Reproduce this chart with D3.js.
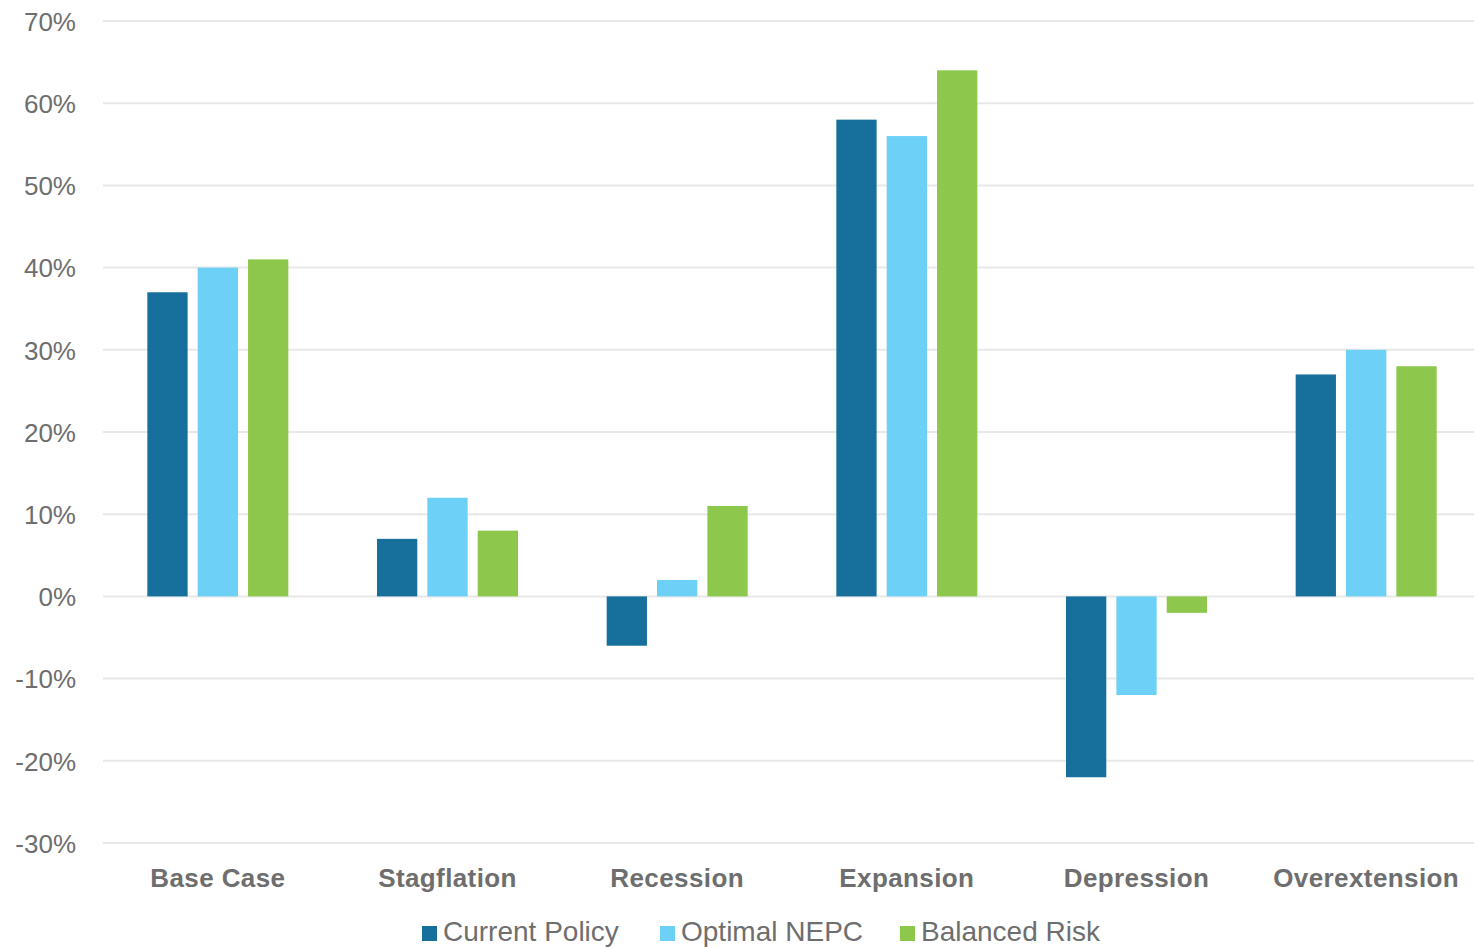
<!DOCTYPE html>
<html>
<head>
<meta charset="utf-8">
<script src="https://cdn.jsdelivr.net/npm/d3@7"></script>
<style>
  html, body { margin: 0; padding: 0; background: #fff; }
  svg { display: block; font-family: "Liberation Sans", Arial, sans-serif; }
</style>
</head>
<body>
<svg id="chart" width="1474" height="948"></svg>
<script>
// Scenario returns by portfolio
const categories = ["Base Case", "Stagflation", "Recession", "Expansion", "Depression", "Overextension"];
const seriesNames = ["Current Policy", "Optimal NEPC", "Balanced Risk"];
const currentPolicy = [37, 7, -6, 58, -22, 27];
const optimalNEPC   = [40, 12, 2, 56, -12, 30];
const balancedRisk  = [41, 8, 11, 64, -2, 28];
const yTicks = [-30, -20, -10, 0, 10, 20, 30, 40, 50, 60, 70];
const colors = ["#176f9c", "#6dd0f6", "#8dc74c"];

const series = [currentPolicy, optimalNEPC, balancedRisk];

const svg = d3.select("#chart");
const textColor = "#6e6e6e";

const x = d3.scaleBand().domain(categories).range([103, 1481]).paddingInner(0).paddingOuter(0);
const y = d3.scaleLinear().domain([-30, 70]).range([843, 21]);
const xInner = d3.scaleBand().domain(seriesNames)
  .range([0, 141]).paddingInner(0.2).paddingOuter(0);

// grid lines
svg.append("g").selectAll("line").data(yTicks).join("line")
  .attr("x1", 103).attr("x2", 1481)
  .attr("y1", d => y(d)).attr("y2", d => y(d))
  .attr("stroke", "#e8e8e8").attr("stroke-width", 2);

// y axis labels
const yAxis = d3.axisLeft(y).tickValues(yTicks).tickFormat(d => d + "%").tickSize(0).tickPadding(0);
const ya = svg.append("g").attr("transform", "translate(76,0)").call(yAxis);
ya.select(".domain").remove();
ya.selectAll("text")
  .attr("font-size", 26).attr("fill", textColor)
  .attr("font-family", "'Liberation Sans', Arial, sans-serif")
  .attr("dy", "0.36em");

// bars
const groups = svg.append("g").selectAll("g").data(categories).join("g")
  .attr("transform", d => `translate(${x(d) + (x.bandwidth() - 141) / 2},0)`);

groups.selectAll("rect")
  .data((c, i) => series.map((s, j) => ({ name: seriesNames[j], value: s[i], color: colors[j] })))
  .join("rect")
  .attr("x", d => xInner(d.name))
  .attr("width", xInner.bandwidth())
  .attr("y", d => y(Math.max(0, d.value)))
  .attr("height", d => Math.abs(y(d.value) - y(0)))
  .attr("fill", d => d.color);

// category labels
const xAxis = d3.axisBottom(x).tickSize(0).tickPadding(0);
const xa = svg.append("g").attr("transform", "translate(0,887)").call(xAxis);
xa.select(".domain").remove();
xa.selectAll("text")
  .attr("dy", 0)
  .attr("font-size", 26).attr("font-weight", "bold").attr("fill", textColor)
  .attr("letter-spacing", 0.4)
  .attr("font-family", "'Liberation Sans', Arial, sans-serif");

// legend
const legendX = [422, 660, 900];
const legend = svg.append("g").selectAll("g").data(seriesNames).join("g")
  .attr("transform", (d, i) => `translate(${legendX[i]},0)`);
legend.append("rect")
  .attr("x", 0).attr("y", 926).attr("width", 15).attr("height", 15)
  .attr("fill", (d, i) => colors[i]);
legend.append("text")
  .attr("x", 21).attr("y", 941)
  .attr("font-size", 28).attr("fill", textColor)
  .text(d => d);
</script>
</body>
</html>
